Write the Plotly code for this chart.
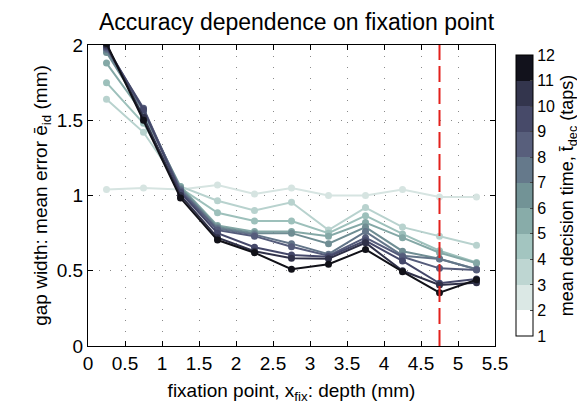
import plotly.graph_objects as go

x_fix = [0.25, 0.75, 1.25, 1.75, 2.25, 2.75, 3.25, 3.75, 4.25, 4.75, 5.25]

# mean decision time of each curve (taps) and gap width values (mm)
t_dec = [2.5, 3.5, 4.5, 5.5, 6.5, 7.5, 8.5, 9.5, 10.5, 11.5]
err_t2 = [1.04, 1.05, 1.04, 1.07, 1.01, 1.05, 1.00, 1.00, 1.04, 0.99, 0.99]
err_t3 = [1.64, 1.42, 1.06, 0.965, 0.90, 0.955, 0.77, 0.92, 0.79, 0.73, 0.67]
err_t4 = [1.75, 1.48, 1.05, 0.885, 0.83, 0.83, 0.75, 0.866, 0.745, 0.633, 0.555]
err_t5 = [1.88, 1.54, 1.06, 0.80, 0.76, 0.76, 0.73, 0.82, 0.72, 0.62, 0.55]
err_t6 = [1.95, 1.56, 1.05, 0.79, 0.75, 0.75, 0.68, 0.79, 0.63, 0.58, 0.51]
err_t7 = [1.97, 1.57, 1.04, 0.78, 0.74, 0.68, 0.61, 0.76, 0.60, 0.578, 0.51]
err_t8 = [1.98, 1.58, 1.03, 0.77, 0.73, 0.66, 0.60, 0.72, 0.593, 0.516, 0.505]
err_t9 = [1.99, 1.57, 1.02, 0.75, 0.656, 0.605, 0.593, 0.70, 0.565, 0.417, 0.445]
err_t10 = [2.0, 1.52, 1.00, 0.72, 0.63, 0.583, 0.58, 0.686, 0.50, 0.405, 0.42]
err_t11 = [2.01, 1.50, 0.983, 0.704, 0.62, 0.51, 0.543, 0.642, 0.494, 0.354, 0.44]
series = [err_t2, err_t3, err_t4, err_t5, err_t6, err_t7, err_t8, err_t9, err_t10, err_t11]

fix_point = 4.75

band_colors = ["#ffffff", "#dbe8e5", "#bed6d2", "#a3c5c0", "#88aca9", "#729396",
               "#65798b", "#585f7c", "#474a69", "#33354d", "#12121c"]
line_colors = ["#d6e4e1", "#b8d2ce", "#9dc0bb", "#84a8a6", "#6f8d93",
               "#637589", "#555c7b", "#45486a", "#2f3048", "#111118"]

fig = go.Figure()
for vals, col, t in zip(series, line_colors, t_dec):
    fig.add_trace(go.Scatter(x=x_fix, y=vals, mode="lines+markers",
                             line=dict(color=col, width=2),
                             marker=dict(color=col, size=7),
                             showlegend=False, cliponaxis=True,
                             name=f"t={t}"))

# discrete colorbar 1..12
cs = []
n = len(band_colors)
for i, c in enumerate(band_colors):
    cs.append([i / n, c])
    cs.append([(i + 1) / n, c])
fig.add_trace(go.Scatter(
    x=[None], y=[None], mode="markers", showlegend=False,
    marker=dict(color=[1], cmin=1, cmax=12, colorscale=cs, showscale=True,
                colorbar=dict(
                    x=1.027, xanchor="left", y=0.5, yanchor="middle",
                    len=1.0, lenmode="fraction", thickness=17, thicknessmode="pixels",
                    outlinecolor="black", outlinewidth=1,
                    tickvals=list(range(1, 13)), ticks="inside", ticklen=3,
                    tickfont=dict(size=16, color="black"),
                    title=dict(text="mean decision time, t̄<sub>dec</sub> (taps)",
                               side="right", font=dict(size=18, color="black")),
                ))))

fig.add_shape(type="line", x0=fix_point, x1=fix_point, y0=0, y1=2,
              xref="x", yref="y", layer="above",
              line=dict(color="#e3211c", width=2, dash="16px,6px"))

axis_common = dict(showline=True, mirror="ticks", linecolor="black", linewidth=1,
                   ticks="inside", ticklen=5, tickcolor="black",
                   showgrid=True, gridcolor="#8a8a8a", gridwidth=1, griddash="1px,10px",
                   zeroline=False, tickfont=dict(size=19, color="black"))

fig.update_xaxes(range=[0, 5.5], dtick=0.5, tick0=0,
                 title=dict(text="fixation point, x<sub>fix</sub>: depth (mm)",
                            font=dict(size=19, color="black"), standoff=10),
                 **axis_common)
fig.update_yaxes(range=[0, 2], dtick=0.5, tick0=0,
                 title=dict(text="gap width: mean error ē<sub>id</sub> (mm)",
                            font=dict(size=19, color="black"), standoff=4),
                 **axis_common)

fig.update_layout(
    width=577, height=405,
    margin=dict(l=80, r=90, t=37, b=67, autoexpand=False),
    paper_bgcolor="white", plot_bgcolor="white",
    font=dict(family="Liberation Sans, Arial, sans-serif", color="black"),
    title=dict(text="Accuracy dependence on fixation point", x=0.5, xanchor="center",
               y=0.985, yanchor="top", font=dict(size=23, color="black")),
)

fig.write_html("out.html")
